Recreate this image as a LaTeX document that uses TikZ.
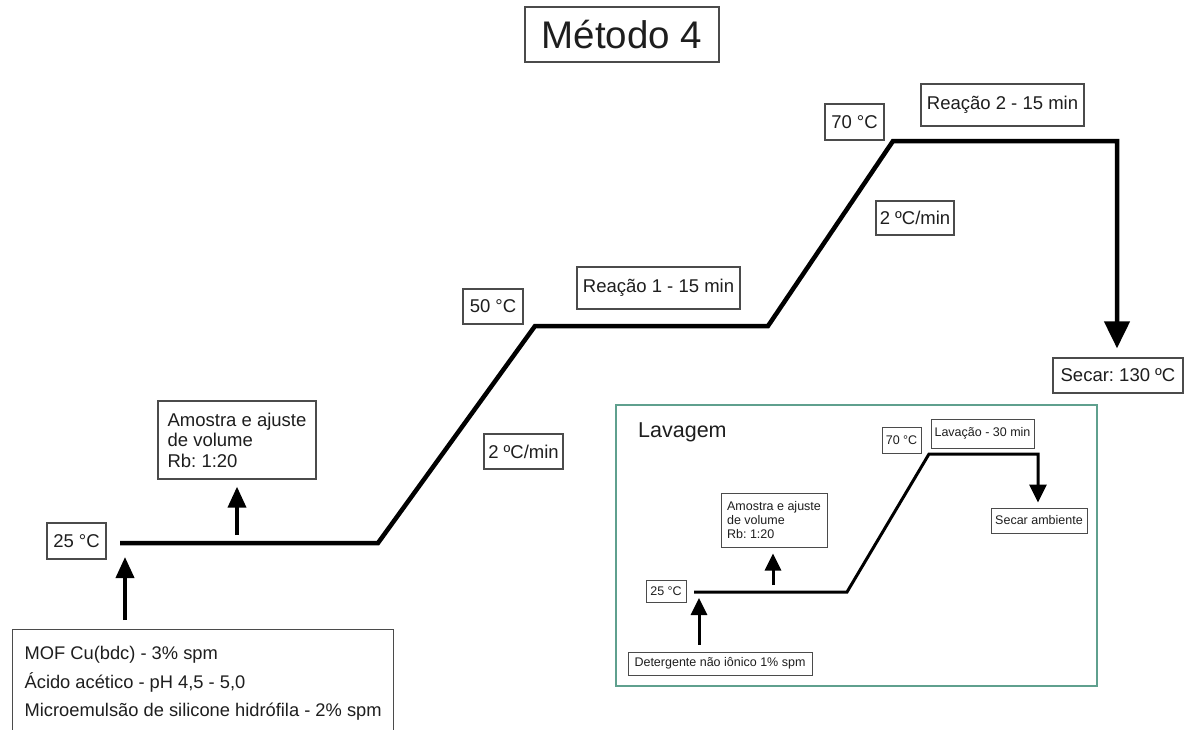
\documentclass[tikz,border=0pt]{standalone}
\usepackage{fontspec}
\setmainfont{Liberation Sans}
\usetikzlibrary{arrows.meta}
\definecolor{ink}{RGB}{30,30,30}
\definecolor{boxline}{RGB}{75,75,75}
\definecolor{frameteal}{RGB}{95,160,142}
\frenchspacing

\begin{document}
\begin{tikzpicture}[x=1pt,y=-1pt,
  tag/.style={draw=boxline, line width=1.3pt, inner sep=0pt, text=ink,
    font=\fontsize{18.5}{20.5}\selectfont},
  smalltag/.style={draw=boxline, line width=1pt, inner sep=0pt, text=ink,
    font=\fontsize{12.5}{14}\selectfont},
  profile/.style={line width=4.5pt, line join=miter},
  smallprofile/.style={line width=3pt, line join=miter},
  feed/.style={line width=3.8pt, -{Triangle[length=21pt,width=18pt]}},
  smallfeed/.style={line width=3pt, -{Triangle[length=17pt,width=16pt]}}
]
\useasboundingbox (0,0) rectangle (1199,729);
\clip (0,0) rectangle (1199,729);
\fill[white] (0,0) rectangle (1199,729);

% title
\node[draw=boxline, line width=1.3pt, inner sep=0pt, minimum width=194pt, minimum height=55pt,
  text=ink, font=\fontsize{38.5}{42}\selectfont] (title) at (622,34.5) {Método 4};

% ---------- main temperature profile ----------
\node[tag, minimum width=59pt, minimum height=36pt] (t25) at (76.5,541) {25 °C};
\node[tag, minimum width=60pt, minimum height=35pt] (t50) at (493,306.5) {50 °C};
\node[tag, minimum width=59pt, minimum height=36pt] (t70) at (854.5,122) {70 °C};
\node[tag, minimum width=163pt, minimum height=42pt] (reac1) at (658.5,288) {Reação 1 - 15 min};
\node[tag, minimum width=163pt, minimum height=42pt] (reac2) at (1002.5,105) {Reação 2 - 15 min};
\node[tag, minimum width=79pt, minimum height=35pt] (rate1) at (523.5,451.5) {2 ºC/min};
\node[tag, minimum width=78pt, minimum height=34pt] (rate2) at (915,218) {2 ºC/min};
\node[tag, minimum width=130pt, minimum height=35pt] (secar) at (1118,375.5) {Secar: 130 ºC};
\node[tag, minimum width=158pt, minimum height=78pt, align=left] (amostra) at (237,440)
  {Amostra e ajuste\\de volume\\Rb: 1:20};
\node[tag, anchor=north west, inner xsep=10.5pt, inner ysep=16.6pt, minimum width=381pt,
  align=left, font=\fontsize{18.3}{28.5}\selectfont] (mof) at (12,629)
  {MOF Cu(bdc) - 3\% spm\\Ácido acético - pH 4,5 - 5,0\\Microemulsão de silicone hidrófila - 2\% spm};

\coordinate (m0) at (120,543);
\coordinate (m1) at (378,543);
\coordinate (m2) at (535,326);
\coordinate (m3) at (768,326);
\coordinate (m4) at (893,141);
\coordinate (m5) at (1117,141);
\draw[profile, -{Triangle[length=27pt,width=25pt]}, shorten >=9pt]
  (m0) -- (m1) -- (m2) -- (m3) -- (m4) -- (m5) -- (m5 |- secar.north);

\coordinate (a1) at (237,535);
\draw[feed, shorten >=7pt] (a1) -- (a1 |- amostra.south);
\coordinate (b1) at (125,557);
\draw[feed, shorten <=9pt] (b1 |- mof.north) -- (b1);

% ---------- washing stage ----------
\node[draw=frameteal, line width=2pt, minimum width=481pt, minimum height=281pt, inner sep=0pt]
  (lavagem) at (856.5,545.5) {};
\node[anchor=base west, inner sep=0pt, text=ink, font=\fontsize{21.5}{24}\selectfont]
  (lavtitle) at (638,437) {Lavagem};

\node[smalltag, minimum width=40pt, minimum height=22pt] (s25) at (666,591) {25 °C};
\node[smalltag, minimum width=39pt, minimum height=26pt] (s70) at (901.5,440) {70 °C};
\node[smalltag, minimum width=103pt, minimum height=29pt] (lavacao) at (982.5,433.5) {Lavação - 30 min};
\node[smalltag, minimum width=96pt, minimum height=25pt] (secaramb) at (1039,520.5) {Secar ambiente};
\node[smalltag, minimum width=184pt, minimum height=23pt] (deterg) at (720,663.5) {Detergente não iônico 1\% spm};
\node[smalltag, minimum width=106pt, minimum height=54pt, align=left] (samostra) at (774,520)
  {Amostra e ajuste\\de volume\\Rb: 1:20};

\coordinate (l0) at (694,592);
\coordinate (l1) at (847,592);
\coordinate (l2) at (929,454);
\coordinate (l3) at (1038,454);
\draw[smallprofile, -{Triangle[length=18pt,width=17pt]}, shorten >=5pt]
  (l0) -- (l1) -- (l2) -- (l3) -- (l3 |- secaramb.north);

\coordinate (la) at (773,585);
\draw[smallfeed, shorten >=6pt] (la) -- (la |- samostra.south);
\coordinate (lb) at (699,598);
\draw[smallfeed, shorten <=7pt] (lb |- deterg.north) -- (lb);
\end{tikzpicture}
\end{document}
